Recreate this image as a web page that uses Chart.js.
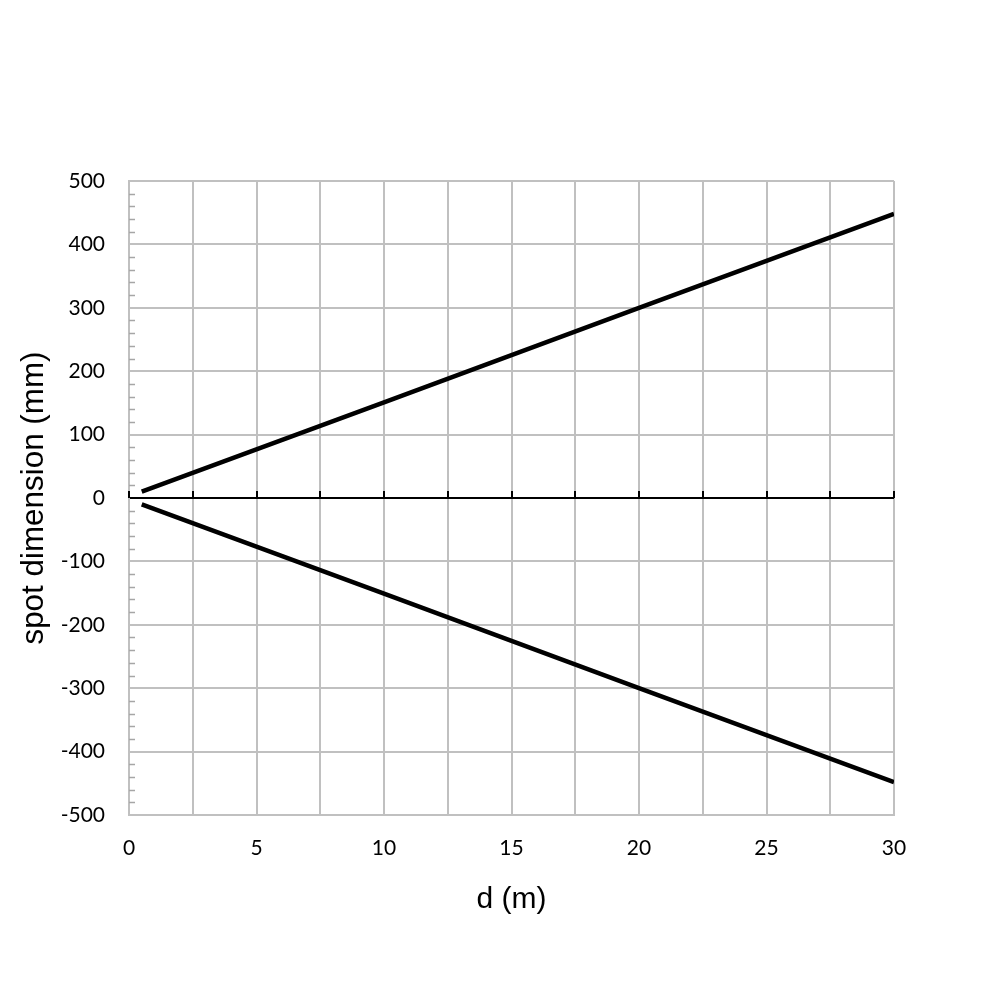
<!DOCTYPE html>
<html>
<head>
<meta charset="utf-8">
<script src="https://cdn.jsdelivr.net/npm/chart.js@4.4.1/dist/chart.umd.min.js"></script>
<style>
  html, body { margin: 0; padding: 0; background: #ffffff; }
  #c { display: block; }
</style>
</head>
<body>
<canvas id="c" width="1000" height="1000"></canvas>
<script>
// ---- data ----
const distances = [0.5, 10, 20, 30];          // d (m)
const upperSpot = [10, 151, 300, 448];        // mm
const lowerSpot = [-10, -151, -300, -448];    // mm
const xTickStep = 2.5;
const yTickStep = 100;
const yMinorStep = 20;
const xTitle = 'd (m)';
const yTitle = 'spot dimension (mm)';

const gridGray = '#c0c0c0';

const toPoints = (xs, ys) => xs.map((x, i) => ({ x: x, y: ys[i] }));

const minorTicksPlugin = {
  id: 'minorTicks',
  beforeDatasetsDraw(chart) {
    const ctx = chart.ctx;
    const xs = chart.scales.x;
    const ys = chart.scales.y;
    const area = chart.chartArea;
    ctx.save();
    // minor ticks on the left axis, pointing inward
    ctx.strokeStyle = '#a6a6a6';
    ctx.lineWidth = 1.5;
    for (let v = ys.min; v <= ys.max; v += yMinorStep) {
      if (v % yTickStep === 0) continue;
      const py = Math.round(ys.getPixelForValue(v)) + 0.5;
      ctx.beginPath();
      ctx.moveTo(area.left, py);
      ctx.lineTo(area.left + 6, py);
      ctx.stroke();
    }
    // tick marks on the zero line, pointing up
    const y0 = ys.getPixelForValue(0);
    ctx.strokeStyle = '#000000';
    ctx.lineWidth = 2;
    for (let v = xs.min; v <= xs.max + 1e-9; v += xTickStep) {
      const px = Math.round(xs.getPixelForValue(v));
      ctx.beginPath();
      ctx.moveTo(px, y0);
      ctx.lineTo(px, y0 - 7);
      ctx.stroke();
    }
    ctx.restore();
  }
};

new Chart(document.getElementById('c'), {
  type: 'scatter',
  data: {
    datasets: [
      {
        data: toPoints(distances, upperSpot),
        showLine: true,
        borderColor: '#000000',
        borderWidth: 4.5,
        pointRadius: 0,
        fill: false
      },
      {
        data: toPoints(distances, lowerSpot),
        showLine: true,
        borderColor: '#000000',
        borderWidth: 4.5,
        pointRadius: 0,
        fill: false
      }
    ]
  },
  options: {
    responsive: false,
    animation: false,
    devicePixelRatio: 1,
    layout: { padding: { left: 0, top: 181, right: 106, bottom: 0 } },
    plugins: {
      legend: { display: false },
      tooltip: { enabled: false }
    },
    scales: {
      x: {
        type: 'linear',
        min: 0,
        max: 30,
        afterFit(scale) { scale.height = 185; },
        ticks: {
          stepSize: xTickStep,
          autoSkip: false,
          maxRotation: 0,
          padding: 21,
          color: '#000000',
          font: { family: 'Lato', size: 21 },
          callback: (v) => (v % 5 === 0 ? String(v) : '')
        },
        grid: { color: gridGray, lineWidth: 2, drawTicks: false },
        border: { display: true, color: gridGray, width: 2 },
        title: {
          display: true,
          text: xTitle,
          color: '#000000',
          font: { family: 'Liberation Sans', size: 30 },
          padding: { top: 0, bottom: 82 }
        }
      },
      y: {
        type: 'linear',
        min: -500,
        max: 500,
        afterFit(scale) { scale.width = 129; },
        ticks: {
          stepSize: yTickStep,
          padding: 24,
          color: '#000000',
          font: { family: 'Lato', size: 21 },
          callback: (v) => String(v)
        },
        grid: {
          color: (c) => (c.tick && c.tick.value === 0 ? '#000000' : gridGray),
          lineWidth: 2,
          drawTicks: false
        },
        border: { display: true, color: gridGray, width: 2 },
        title: {
          display: true,
          text: yTitle,
          color: '#000000',
          font: { family: 'Liberation Sans', size: 31.4 },
          padding: { top: 16, bottom: 0 }
        }
      }
    }
  },
  plugins: [minorTicksPlugin]
});
</script>
</body>
</html>
